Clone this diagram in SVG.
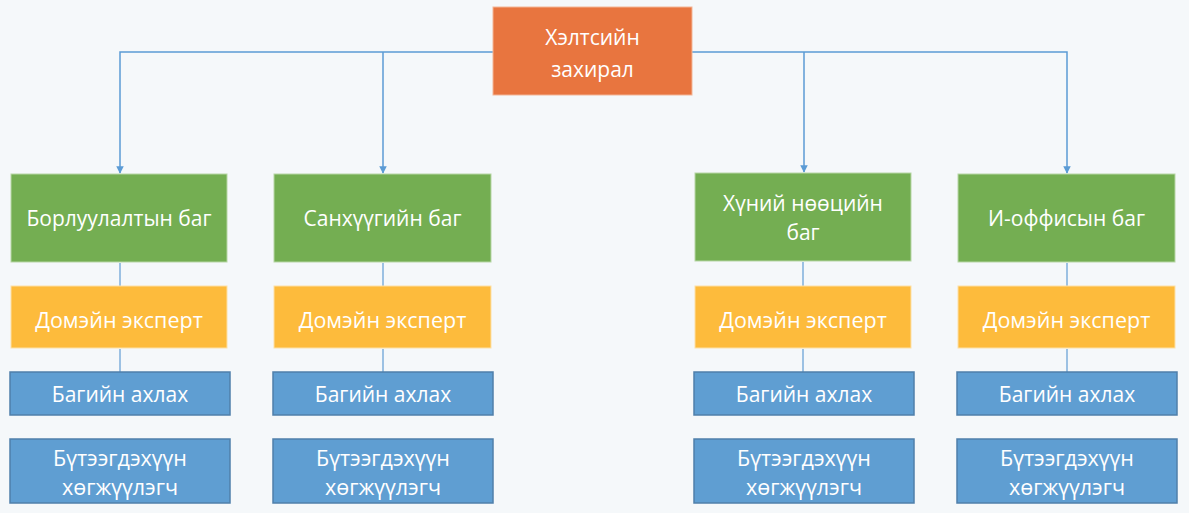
<svg xmlns="http://www.w3.org/2000/svg" width="1189" height="513" viewBox="0 0 1189 513">
<style>
text{font-family:"Open Sans","Liberation Sans",sans-serif;fill:#fff;text-anchor:middle;dominant-baseline:central}
.top{fill:#E8753F;stroke:#F3B596;stroke-width:1}
.team{fill:#74AE52;stroke:#B7D6A5;stroke-width:1}
.exp{fill:#FDBB3C;stroke:#FDE0A6;stroke-width:1}
.blue{fill:#5F9ED2;stroke:#4F7FAA;stroke-width:1.5}
.t20{font-size:21px}
.t18{font-size:21px}
.td{font-size:21.5px}
.ty{font-size:21.5px}
.conn{fill:none;stroke:#5B9BD5;stroke-width:1.5}
.link{fill:none;stroke:#7FAEDB;stroke-width:1.5}
</style>
<defs>
<marker id="ah" viewBox="0 0 10 10" refX="9" refY="5" markerWidth="5" markerHeight="5" orient="auto" markerUnits="strokeWidth">
<path d="M0,0 L10,5 L0,10 z" fill="#5B9BD5"/>
</marker>
</defs>
<rect width="1189" height="513" fill="#F5F8FA"/>
<g id="connectors">
<path class="conn" d="M493,52 H120 V173" marker-end="url(#ah)"/>
<path class="conn" d="M383,52 V173" marker-end="url(#ah)"/>
<path class="conn" d="M692,52 H1067 V173" marker-end="url(#ah)"/>
<path class="conn" d="M804,52 V172" marker-end="url(#ah)"/>
<path class="link" d="M120,263 V286 M120,349 V372"/>
<path class="link" d="M383,263 V286 M383,349 V372"/>
<path class="link" d="M803,262 V286 M803,349 V372"/>
<path class="link" d="M1067,263 V286 M1067,349 V372"/>
</g>
<g id="director">
<rect class="top" x="493" y="7" width="199" height="88"/>
<text class="t20" x="592.5" y="37">Хэлтсийн</text>
<text class="t20" x="592.5" y="69">захирал</text>
</g>
<g id="team1">
<rect class="team" x="11" y="174" width="216" height="88"/>
<text class="t20" x="119" y="218">Борлуулалтын баг</text>
</g>
<g id="team2">
<rect class="team" x="274" y="174" width="217" height="88"/>
<text class="t20" x="382.5" y="218">Санхүүгийн баг</text>
</g>
<g id="team3">
<rect class="team" x="695" y="173" width="216" height="88"/>
<text class="t20" x="803" y="203">Хүний нөөцийн</text>
<text class="t20" x="803" y="232">баг</text>
</g>
<g id="team4">
<rect class="team" x="958" y="174" width="217" height="88"/>
<text class="t20" x="1066.5" y="218">И-оффисын баг</text>
</g>
<g id="expert1">
<rect class="exp" x="11" y="286" width="216" height="62"/>
<text class="ty" x="119" y="319">Домэйн эксперт</text>
</g>
<g id="expert2">
<rect class="exp" x="274" y="286" width="217" height="62"/>
<text class="ty" x="382.5" y="319">Домэйн эксперт</text>
</g>
<g id="expert3">
<rect class="exp" x="695" y="286" width="216" height="62"/>
<text class="ty" x="803" y="319">Домэйн эксперт</text>
</g>
<g id="expert4">
<rect class="exp" x="958" y="286" width="217" height="62"/>
<text class="ty" x="1066.5" y="319">Домэйн эксперт</text>
</g>
<g id="lead1">
<rect class="blue" x="10" y="372" width="220" height="43"/>
<text class="t18" x="120" y="394">Багийн ахлах</text>
</g>
<g id="lead2">
<rect class="blue" x="273" y="372" width="220" height="43"/>
<text class="t18" x="383" y="394">Багийн ахлах</text>
</g>
<g id="lead3">
<rect class="blue" x="694" y="372" width="220" height="43"/>
<text class="t18" x="804" y="394">Багийн ахлах</text>
</g>
<g id="lead4">
<rect class="blue" x="957" y="372" width="220" height="43"/>
<text class="t18" x="1067" y="394">Багийн ахлах</text>
</g>
<g id="dev1">
<rect class="blue" x="10" y="439" width="220" height="64"/>
<text class="td" x="120" y="457">Бүтээгдэхүүн</text>
<text class="td" x="120" y="486">хөгжүүлэгч</text>
</g>
<g id="dev2">
<rect class="blue" x="273" y="439" width="220" height="64"/>
<text class="td" x="383" y="457">Бүтээгдэхүүн</text>
<text class="td" x="383" y="486">хөгжүүлэгч</text>
</g>
<g id="dev3">
<rect class="blue" x="694" y="439" width="220" height="64"/>
<text class="td" x="804" y="457">Бүтээгдэхүүн</text>
<text class="td" x="804" y="486">хөгжүүлэгч</text>
</g>
<g id="dev4">
<rect class="blue" x="957" y="439" width="220" height="64"/>
<text class="td" x="1067" y="457">Бүтээгдэхүүн</text>
<text class="td" x="1067" y="486">хөгжүүлэгч</text>
</g>
</svg>
